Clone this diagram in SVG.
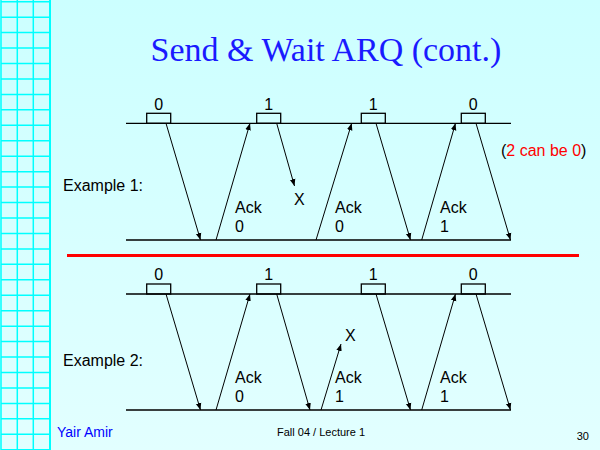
<svg xmlns="http://www.w3.org/2000/svg" width="600" height="450" viewBox="0 0 600 450">
<defs>
<linearGradient id="bg" x1="0" y1="0" x2="0" y2="1">
<stop offset="0" stop-color="#ccffff"/>
<stop offset="1" stop-color="#e2ffff"/>
</linearGradient>
<marker id="ah" viewBox="0 0 10 10" refX="10" refY="5" markerWidth="7" markerHeight="7" markerUnits="userSpaceOnUse" orient="auto">
<path d="M0,1 L10,5 L0,9 Z" fill="#000"/>
</marker>
<style>
.t{font-family:"Liberation Sans",Arial,sans-serif;font-size:16px;fill:#000}
.c{text-anchor:middle}
.ln{stroke:#000;stroke-width:1.3;fill:none}
.fr{stroke:#000;stroke-width:1.3;fill:none}
.ar{stroke:#000;stroke-width:1;fill:none;marker-end:url(#ah)}
.grid{stroke:#00ffff;stroke-width:1.5;fill:none}
</style>
</defs>
<rect x="0" y="0" width="600" height="450" fill="url(#bg)"/>
<g id="grid">
<path class="grid" d="M1,0V450M17.3,0V450M33.3,0V450M1,1.7H50M1,17.15H50M1,32.6H50M1,48.05H50M1,63.5H50M1,78.95H50M1,94.4H50M1,109.85H50M1,125.3H50M1,140.75H50M1,156.2H50M1,171.65H50M1,187.1H50M1,202.55H50M1,218H50M1,233.45H50M1,248.9H50M1,264.35H50M1,279.8H50M1,295.25H50M1,310.7H50M1,326.15H50M1,341.6H50M1,357.05H50M1,372.5H50M1,387.95H50M1,403.4H50M1,418.85H50M1,434.3H50M1,449.75H50"/>
<path d="M50,0V450" stroke="#00ffff" stroke-width="2"/>
</g>
<text id="title" x="326" y="61" text-anchor="middle" font-family="'Liberation Serif','Times New Roman',serif" font-size="34" fill="#1a1aff">Send &amp; Wait ARQ (cont.)</text>

<g id="example1">
<text class="t" x="63" y="191">Example 1:</text>
<path class="ln" d="M126,123.3H511M126,240H511"/>
<g id="e1f0"><rect class="fr" x="146.7" y="113.3" width="24" height="10"/><text class="t c" x="158.7" y="110">0</text></g>
<g id="e1f1"><rect class="fr" x="256.7" y="113.3" width="24" height="10"/><text class="t c" x="268.7" y="110">1</text></g>
<g id="e1f2"><rect class="fr" x="361.3" y="113.3" width="24" height="10"/><text class="t c" x="373.3" y="110">1</text></g>
<g id="e1f3"><rect class="fr" x="461.3" y="113.3" width="24" height="10"/><text class="t c" x="473.3" y="110">0</text></g>
<text class="t" x="501" y="156"><tspan>(</tspan><tspan fill="#ff0000">2 can be 0</tspan><tspan>)</tspan></text>
<text class="t" x="294" y="205">X</text>
<text class="t" x="235" y="213">Ack</text><text class="t" x="235" y="232">0</text>
<text class="t" x="335" y="213">Ack</text><text class="t" x="335" y="232">0</text>
<text class="t" x="440" y="213">Ack</text><text class="t" x="440" y="232">1</text>
</g>
<g id="connectors1">
<line class="ar" x1="166" y1="123.3" x2="200.5" y2="240"/>
<line class="ar" x1="216" y1="240" x2="250" y2="123.3"/>
<line class="ar" x1="276.7" y1="123.3" x2="294.5" y2="186"/>
<line class="ar" x1="316" y1="240" x2="351.7" y2="123.3"/>
<line class="ar" x1="376" y1="123.3" x2="410.5" y2="240"/>
<line class="ar" x1="421.7" y1="240" x2="455.5" y2="123.3"/>
<line class="ar" x1="476" y1="123.3" x2="510.5" y2="240"/>
</g>

<line id="separator" x1="67" y1="255.5" x2="579" y2="255.5" stroke="#ff0000" stroke-width="3"/>

<g id="example2">
<text class="t" x="63" y="366">Example 2:</text>
<path class="ln" d="M126,294H511M126,410H511"/>
<g id="e2f0"><rect class="fr" x="146.7" y="284" width="24" height="10"/><text class="t c" x="158.7" y="280">0</text></g>
<g id="e2f1"><rect class="fr" x="256.7" y="284" width="24" height="10"/><text class="t c" x="268.7" y="280">1</text></g>
<g id="e2f2"><rect class="fr" x="361.3" y="284" width="24" height="10"/><text class="t c" x="373.3" y="280">1</text></g>
<g id="e2f3"><rect class="fr" x="461.3" y="284" width="24" height="10"/><text class="t c" x="473.3" y="280">0</text></g>
<text class="t" x="345" y="341">X</text>
<text class="t" x="235" y="383">Ack</text><text class="t" x="235" y="402">0</text>
<text class="t" x="335" y="383">Ack</text><text class="t" x="335" y="402">1</text>
<text class="t" x="440" y="383">Ack</text><text class="t" x="440" y="402">1</text>
</g>
<g id="connectors2">
<line class="ar" x1="166" y1="294" x2="200.5" y2="410"/>
<line class="ar" x1="216" y1="410" x2="250" y2="294"/>
<line class="ar" x1="276.7" y1="294" x2="310" y2="410"/>
<line class="ar" x1="321" y1="410" x2="341" y2="344"/>
<line class="ar" x1="376" y1="294" x2="410.5" y2="410"/>
<line class="ar" x1="421.7" y1="410" x2="455.5" y2="294"/>
<line class="ar" x1="476" y1="294" x2="510.5" y2="410"/>
</g>

<g id="footer">
<text x="57" y="437" font-family="'Liberation Sans',Arial,sans-serif" font-size="14" fill="#0000ff">Yair Amir</text>
<text x="277" y="436" font-family="'Liberation Sans',Arial,sans-serif" font-size="11" fill="#000">Fall 04 / Lecture 1</text>
<text x="589" y="440" text-anchor="end" font-family="'Liberation Sans',Arial,sans-serif" font-size="11" fill="#000">30</text>
</g>
</svg>
